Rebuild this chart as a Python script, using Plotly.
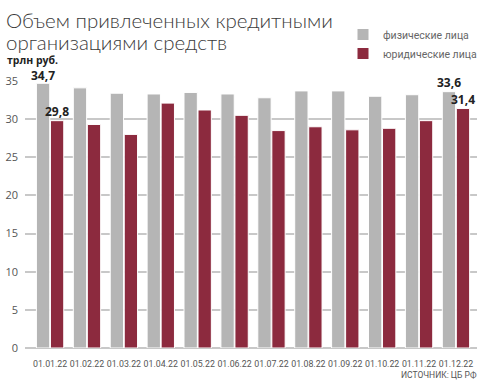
import plotly.graph_objects as go

categories = ["01.01.22", "01.02.22", "01.03.22", "01.04.22", "01.05.22", "01.06.22",
              "01.07.22", "01.08.22", "01.09.22", "01.10.22", "01.11.22", "01.12.22"]
individuals = [34.7, 34.1, 33.4, 33.3, 33.5, 33.3, 32.8, 33.7, 33.7, 33.0, 33.2, 33.6]
legal_entities = [29.8, 29.3, 28.0, 32.1, 31.2, 30.5, 28.5, 29.0, 28.6, 28.8, 29.8, 31.4]
y_ticks = [0, 5, 10, 15, 20, 25, 30, 35]
title_lines = ["Объем привлеченных кредитными", "организациями средств"]

W, H = 483, 380
L, R, T, B = 25, 6, 81, 32
pw, ph = W - L - R, H - T - B

def px(x):
    return (x - L) / pw

def py(y):
    return (H - B - y) / ph

GRAY = "#b5b5b5"
RED = "#8c2a3e"
GRID = "#c8c8c8"
SMALL = "Roboto, sans-serif"

fig = go.Figure()
fig.add_trace(go.Bar(x=categories, y=individuals, name="физические лица",
                     marker=dict(color=GRAY, line=dict(color="white", width=1)), offsetgroup=0))
fig.add_trace(go.Bar(x=categories, y=legal_entities, name="юридические лица",
                     marker=dict(color=RED, line=dict(color="white", width=1)), offsetgroup=1))

ann = []
for k, (line, yc) in enumerate(zip(title_lines, [20, 42])):
    ann.append(dict(text=line, x=px(4), y=py(yc), xref="paper", yref="paper",
                    xanchor="left", yanchor="middle", showarrow=False, align="left",
                    font=dict(family="Lato", size=20.5, color="#3a3a3a", weight=300)))
ann.append(dict(text="<b>трлн руб.</b>", x=px(5), y=py(60), xref="paper", yref="paper",
                xanchor="left", yanchor="middle", showarrow=False,
                font=dict(family="Open Sans", size=10.5, color="#222")))
ann.append(dict(text="ИСТОЧНИК: ЦБ РФ", x=px(479), y=py(375), xref="paper", yref="paper",
                xanchor="right", yanchor="middle", showarrow=False,
                font=dict(family=SMALL, size=8.5, color="#555")))
# value labels
lab = [(0, -0.2, individuals[0], -3), (0, 0.2, legal_entities[0], -1),
       (11, -0.2, individuals[11], -1), (11, 0.2, legal_entities[11], -2)]
for i, off, v, ys in lab:
    ann.append(dict(text=f"<b>{str(v).replace('.', ',')}</b>", x=i + off, y=v, xref="x", yref="y",
                    xanchor="center", yanchor="bottom", showarrow=False, yshift=ys,
                    font=dict(family="Open Sans", size=12, color="#222")))

fig.update_layout(
    width=W, height=H,
    margin=dict(l=L, r=R, t=T, b=B, autoexpand=False),
    paper_bgcolor="white", plot_bgcolor="white",
    barmode="group", bargap=0.24, bargroupgap=0.05,
    annotations=ann,
    shapes=[dict(type="line", xref="paper", yref="y", x0=px(429), x1=1.02, y0=35, y1=35,
                 line=dict(color="white", width=3), layer="between")],
    showlegend=True,
    legend=dict(x=px(343), y=py(20), xref="paper", yref="paper", xanchor="left", yanchor="top",
                font=dict(family=SMALL, size=10.5, color="#666"),
                itemwidth=30, tracegroupgap=0, bgcolor="rgba(0,0,0,0)"),
    xaxis=dict(type="category", range=[-0.68, 11.57], showgrid=False, showline=False,
               tickangle=0, automargin=False, ticklabelstandoff=9,
               tickfont=dict(family=SMALL, size=8.8, color="#555"), ticks="", ticklen=0),
    yaxis=dict(range=[0, 35], tickvals=y_ticks, showgrid=True, gridcolor=GRID, gridwidth=1.5,
               zeroline=True, zerolinecolor=GRID, zerolinewidth=1.5, showline=False,
               automargin=False,
               tickfont=dict(family="Open Sans", size=11, color="#555"), ticklabelstandoff=6),
)
fig.write_html("out.html", config={"displayModeBar": False},
               post_script="document.body.style.margin='0';document.body.style.padding='0';")
